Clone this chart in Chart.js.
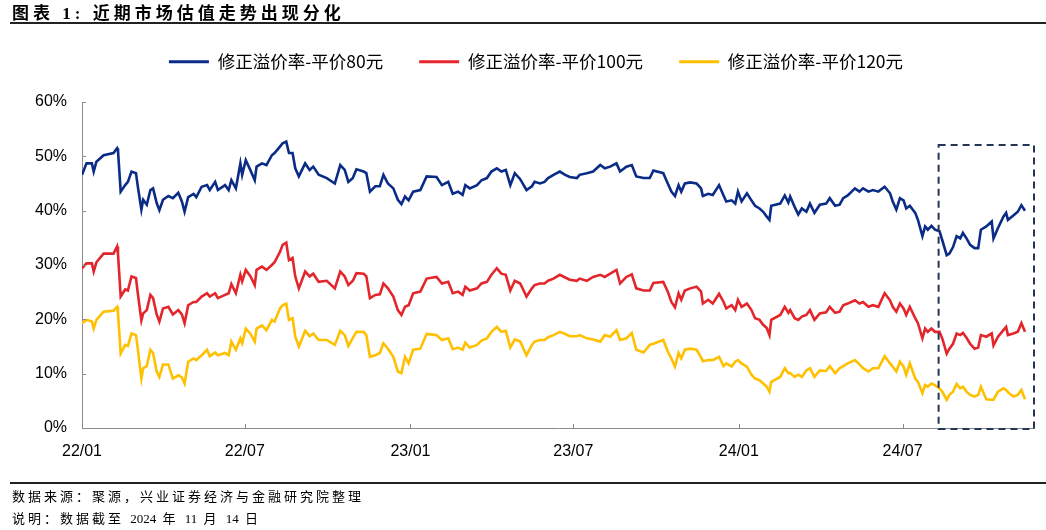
<!DOCTYPE html>
<html><head><meta charset="utf-8">
<script src="https://cdn.jsdelivr.net/npm/chart.js@4"></script>
<style>
html,body{margin:0;padding:0;background:#fff;}
#wrap{position:relative;width:1046px;height:530px;overflow:hidden;background:#fff;}
#c{position:absolute;left:0;top:0;}
.title{position:absolute;left:12px;top:-1px;font-weight:bold;font-size:17px;font-family:"Liberation Serif","Noto Sans CJK SC";letter-spacing:4px;color:#000;white-space:pre;}
.rule{position:absolute;left:10px;right:0;height:1.5px;background:#222;}
.note{position:absolute;left:12px;font-size:13px;font-family:"Liberation Serif","Noto Sans CJK SC";letter-spacing:3px;color:#000;white-space:pre;}
.note span{letter-spacing:0;}
</style></head>
<body>
<div id="wrap">
<canvas id="c" width="1046" height="530"></canvas>
<div class="title">图表 1: 近期市场估值走势出现分化</div>
<div class="rule" style="top:22px"></div>
<div class="rule" style="top:482px"></div>
<div class="note" style="top:486px">数据来源：聚源，兴业证券经济与金融研究院整理</div>
<div class="note" style="top:508px">说明：数据截至 <span>2024</span> 年 <span>11</span> 月 <span>14</span> 日</div>
</div>
<script>
// days since 2022-01-01
const days = [0,5,11,13,16,24,35,39,40,43,48,51,55,60,62,66,68,72,76,79,83,86,90,96,101,107,111,114,118,124,127,133,139,142,148,151,159,163,166,171,176,178,182,187,192,194,200,205,211,214,220,223,227,230,234,237,241,248,253,257,263,272,281,287,292,296,301,305,313,316,320,326,331,335,340,346,351,
355,359,363,368,376,383,394,400,407,412,418,423,426,431,439,444,450,455,461,466,471,476,481,487,494,500,503,509,514,518,524,531,537,542,550,553,561,568,576,581,587,594,598,605,611,616,624,631,635,646,651,655,659,663,666,670,676,683,688,690,696,701,
708,713,716,722,726,729,733,739,744,748,753,757,761,764,766,776,781,785,787,792,796,800,805,809,814,820,827,831,837,842,846,851,859,864,868,874,879,885,892,898,901,905,909,913,916,920,926,929,934,937,940,944,948,953,956,961,964,968,972,976,979,983,987,992,996,999,1005,1011,1013,1018,1024,1027,1029,1035,1040,1044,1048];

const premium80 = [46.6,48.7,48.7,47.2,49.0,50.2,50.6,51.5,51.0,43.5,44.7,45.3,47.2,46.9,44.5,40.2,42.0,41.1,43.8,44.1,41.4,40.1,42.0,42.7,42.3,43.3,41.7,39.8,42.5,43.1,42.5,44.4,44.7,43.8,45.3,43.8,44.7,43.8,45.6,44.1,48.7,46.6,49.3,47.5,45.6,48.1,48.7,48.4,50.2,50.6,51.8,52.4,52.7,50.6,50.6,47.8,46.3,48.7,47.5,48.1,46.6,46.0,45.0,48.4,47.5,45.3,46.0,47.6,47.2,46.9,43.5,44.5,44.5,46.6,45.0,44.1,42.0,
41.2,42.6,41.9,43.5,43.8,46.3,46.2,44.7,45.3,43.1,43.5,42.9,44.7,44.1,44.7,45.6,46.0,47.2,47.8,47.2,47.5,44.7,46.9,45.8,43.8,44.5,45.3,45.0,45.3,46.0,46.6,47.2,46.6,46.2,46.0,46.6,46.9,47.2,48.4,47.8,48.1,48.7,47.2,48.1,48.4,46.3,46.0,46.0,47.4,46.9,45.0,43.5,42.7,44.7,43.5,45.0,45.2,45.0,44.1,42.7,43.1,42.9,
44.7,42.8,41.7,41.9,41.3,43.5,41.7,43.2,41.9,40.9,40.4,39.8,38.9,38.3,40.9,41.3,42.8,41.5,42.6,40.7,39.3,40.4,39.8,41.3,39.6,41.1,41.3,42.3,40.9,41.1,42.3,42.8,44.1,43.5,44.1,43.5,43.8,43.5,44.4,43.2,41.7,40.2,42.3,41.9,40.4,40.9,39.6,38.3,35.3,37.1,36.5,37.2,36.5,36.2,34.6,31.8,32.1,33.3,35.3,34.9,35.9,34.9,33.7,33.1,33.1,36.5,37.1,38.0,34.9,36.8,38.9,39.6,38.3,39.1,39.8,41.0,40.0];

const premium100 = [29.4,30.3,30.3,28.8,30.5,32.1,32.1,33.4,32.0,24.2,25.5,25.3,27.9,27.6,24.8,19.8,21.1,21.7,24.5,23.9,20.9,19.6,22.0,22.3,20.9,21.7,20.9,19.3,22.6,23.2,23.2,24.2,24.8,24.2,24.8,23.9,24.5,24.8,26.5,24.8,28.2,27.0,29.1,28.0,26.3,29.1,29.7,29.1,30.0,30.5,32.4,33.7,34.1,30.9,31.3,27.9,25.7,28.8,27.9,28.4,26.9,27.1,25.7,28.8,27.9,26.3,27.1,28.5,28.4,27.9,23.9,24.5,24.6,26.6,25.7,24.2,21.7,
20.8,22.3,22.6,24.8,25.1,27.5,27.8,26.6,26.9,24.8,25.1,24.5,26.0,25.3,25.7,26.6,26.9,28.2,29.4,28.4,28.2,25.3,27.1,26.6,24.2,25.7,26.3,26.6,26.6,27.1,27.5,28.2,27.7,27.3,27.1,27.5,27.1,27.8,28.2,27.8,28.4,29.1,26.6,27.8,28.3,25.7,25.3,25.3,26.7,26.9,25.1,23.2,22.2,24.8,23.6,25.3,25.7,26.0,25.1,22.9,23.6,22.9,
24.7,23.2,22.0,22.6,21.7,23.6,22.3,22.9,21.7,20.2,19.9,19.0,18.4,17.1,19.9,20.8,22.3,21.2,21.7,20.2,19.9,20.5,20.8,21.7,19.9,21.1,21.3,22.3,21.2,21.4,22.6,22.9,23.5,22.9,23.2,22.3,22.6,22.3,24.8,23.5,22.3,21.4,22.9,22.0,20.8,22.3,20.2,19.3,16.5,18.3,17.7,18.3,17.7,17.7,16.5,13.7,14.6,15.5,17.4,17.1,17.5,16.6,15.5,14.6,14.8,17.1,16.8,17.4,15.2,16.8,18.0,18.6,17.1,17.4,17.7,19.3,17.7];

const premium120 = [19.3,19.9,19.6,18.3,19.9,21.4,21.6,22.3,21.1,13.7,15.3,15.1,17.4,17.1,14.6,9.1,11.0,11.4,14.4,13.8,10.4,9.4,11.7,11.7,9.1,9.7,9.3,8.2,12.2,12.8,12.5,13.4,14.4,13.2,13.9,13.4,13.8,13.4,15.9,14.4,16.5,15.6,18.3,17.4,15.9,18.3,18.9,18.0,19.9,19.6,22.0,22.6,22.9,19.9,20.2,16.8,15.0,17.9,16.9,17.4,16.2,16.2,15.3,17.9,17.1,15.1,16.6,17.7,17.7,17.1,13.1,13.4,13.8,15.6,14.6,13.1,10.4,
10.1,13.1,11.9,14.4,14.6,17.3,17.1,16.2,16.5,14.5,14.8,14.4,15.7,14.8,15.3,16.1,16.5,17.7,18.6,17.7,17.9,14.8,16.3,15.9,13.4,15.3,15.9,16.2,16.2,16.7,17.1,17.7,17.3,16.9,16.9,17.1,16.5,16.3,15.9,17.1,16.8,18.0,16.2,16.5,17.5,14.4,13.9,15.3,15.5,16.2,14.1,12.8,11.3,13.8,12.8,14.4,14.6,14.4,13.0,12.3,12.5,12.5,
13.1,11.4,11.9,11.3,12.2,12.5,11.9,11.3,9.8,9.1,8.8,8.2,7.6,6.7,8.5,9.4,11.0,10.1,10.1,9.4,9.8,9.4,10.6,11.0,9.4,10.6,10.5,11.4,10.1,11.0,11.4,11.9,12.5,11.7,11.0,10.4,11.0,11.0,13.2,11.9,11.3,10.4,12.2,11.3,9.8,11.9,9.1,8.5,6.4,7.9,7.6,8.2,7.9,7.3,6.7,5.2,6.1,6.7,8.1,7.3,7.6,6.7,6.1,5.8,6.1,7.6,5.3,5.2,5.2,6.7,7.3,7.0,6.6,5.8,6.1,7.0,5.3];

const seriesNames = ['修正溢价率-平价80元','修正溢价率-平价100元','修正溢价率-平价120元'];
const seriesColors = ['#0b2c86','#e3262b','#ffc000'];
const tickDays = [0,181,365,546,730,912];
const tickLabels = ['22/01','22/07','23/01','23/07','24/01','24/07'];
const yTicks = [0,10,20,30,40,50,60];
// highlighted recent period (dashed box)
const boxStartDay = 952, boxEndDay = 1058, boxTopValue = 52.1;
const xMaxDay = 1058;

const toPts = arr => arr.map((v,i)=>({x:days[i], y:v}));
const datasets = [premium80, premium100, premium120].map((arr,k)=>({
  label: seriesNames[k], data: toPts(arr), borderColor: seriesColors[k], backgroundColor: seriesColors[k],
  borderWidth: 2.6, pointRadius: 0, tension: 0, fill: false
}));

const axisColor = '#8a8a8a';
const innerTicks = {
  id:'innerTicks',
  afterDraw(chart){
    const {ctx, scales:{x,y}} = chart;
    ctx.save(); ctx.strokeStyle = axisColor; ctx.lineWidth = 1;
    x.ticks.forEach(t=>{ const px = Math.round(x.getPixelForValue(t.value))+0.5; if (t.value===0) return;
      ctx.beginPath(); ctx.moveTo(px, y.bottom); ctx.lineTo(px, y.bottom-4); ctx.stroke(); });
    y.ticks.forEach(t=>{ const py = Math.round(y.getPixelForValue(t.value))+0.5; if (t.value===0) return;
      ctx.beginPath(); ctx.moveTo(x.left, py); ctx.lineTo(x.left+4, py); ctx.stroke(); });
    // dashed highlight box
    const x1 = x.getPixelForValue(boxStartDay), x2 = x.getPixelForValue(boxEndDay);
    const y1 = y.getPixelForValue(boxTopValue), y2 = y.getPixelForValue(0)+1;
    ctx.strokeStyle = '#243655'; ctx.lineWidth = 2; ctx.setLineDash([7,5]);
    ctx.strokeRect(x1, y1, x2-x1, y2-y1);
    ctx.restore();
  }
};
const legendTweak = {
  id:'legendTweak',
  beforeInit(chart){
    const lg = chart.legend;
    const fit = lg.fit; lg.fit = function(){ fit.call(this); this.height = 85; };
    const draw = lg.draw; lg.draw = function(){ const c = this.ctx; c.save(); c.translate(4,0); draw.apply(this, arguments); c.restore(); };
  }
};

new Chart(document.getElementById('c'), {
  type:'line',
  data:{ datasets },
  plugins:[innerTicks, legendTweak],
  options:{
    responsive:false, animation:false, devicePixelRatio:1,
    layout:{ padding:{ top:17, left:30, right:12, bottom:62 } },
    plugins:{
      tooltip:{enabled:false},
      legend:{ position:'top', labels:{ boxWidth:40, boxHeight:3, padding:36, color:'#000',
        font:{ size:17.5, family:'"Noto Sans CJK SC"' },
        generateLabels(chart){ const items = Chart.defaults.plugins.legend.labels.generateLabels(chart);
          items.forEach(it=>{ it.lineWidth = 0; it.fillStyle = it.strokeStyle; }); return items; } } }
    },
    scales:{
      x:{ type:'linear', min:0, max:xMaxDay,
        afterBuildTicks(s){ s.ticks = tickDays.map(v=>({value:v})); },
        afterFit(s){ s.height = 40; },
        grid:{ display:false, drawTicks:false }, border:{ display:true, color:axisColor, width:1 },
        ticks:{ autoSkip:false, maxRotation:0, padding:14, color:'#000', font:{ size:16, family:'"Liberation Sans"' },
          callback:(v,i)=>tickLabels[i] } },
      y:{ min:0, max:60,
        afterBuildTicks(s){ s.ticks = yTicks.map(v=>({value:v})); },
        afterFit(s){ s.width = 52; },
        grid:{ display:false, drawTicks:false }, border:{ display:true, color:axisColor, width:1 },
        ticks:{ padding:15, color:'#000', font:{ size:16, family:'"Liberation Sans"' }, callback:v=>v+'%' } }
    }
  }
});
</script>
</body></html>
